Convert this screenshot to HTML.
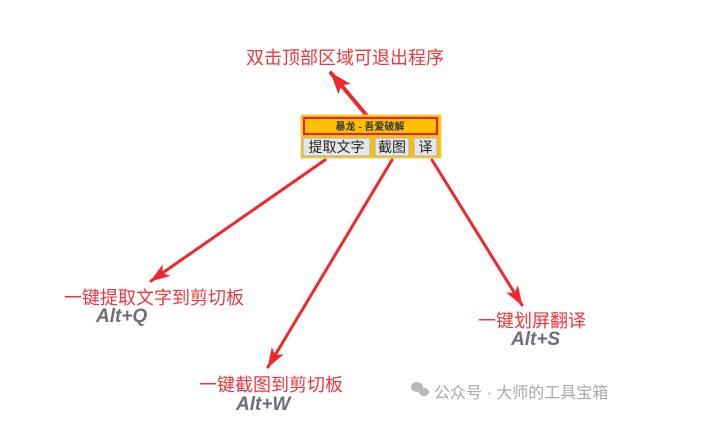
<!DOCTYPE html>
<html><head><meta charset="utf-8"><style>
body{margin:0;background:#fff;width:708px;height:439px;overflow:hidden;font-family:"Liberation Sans","Noto Sans CJK SC",sans-serif}
svg{position:absolute;left:0;top:0}
.t{position:absolute;color:#f0363c;white-space:nowrap;font-family:"Liberation Sans","Noto Sans CJK SC",sans-serif}
.k{position:absolute;color:#6e6e78;font-style:italic;font-weight:bold;font-size:19px;font-family:"Liberation Sans",sans-serif}
</style></head><body>
<svg width="708" height="439">
<defs>
<marker id="a" markerWidth="20" markerHeight="14" refX="19" refY="7" orient="auto" markerUnits="userSpaceOnUse"><path d="M0,0 L20,7 L0,14 L5,7 z" fill="#f0282c"/></marker>
<marker id="b" markerWidth="22" markerHeight="16" refX="21" refY="8" orient="auto" markerUnits="userSpaceOnUse"><path d="M0,0 L22,8 L0,16 L5,8 z" fill="#f0282c"/></marker>
</defs>
<g stroke="#f0282c" fill="none" stroke-linecap="round">
<line x1="368" y1="117" x2="331" y2="73" stroke-width="4" marker-end="url(#b)"/>
<line x1="325" y1="160" x2="151" y2="281" stroke-width="3" marker-end="url(#a)"/>
<line x1="392" y1="160" x2="268" y2="367" stroke-width="3" marker-end="url(#a)"/>
<line x1="432" y1="160" x2="522" y2="305" stroke-width="3" marker-end="url(#a)"/>
</g>
<rect x="301" y="115" width="140" height="43" fill="#ffc000" stroke="#f0d060"/>
<rect x="304" y="118" width="133" height="16" fill="#ffc000" stroke="#e82020" stroke-width="2"/>
<rect x="303" y="138" width="67" height="18" fill="#e6e6e6" stroke="#b0b0b0"/>
<rect x="375" y="138" width="34" height="18" fill="#e6e6e6" stroke="#b0b0b0"/>
<rect x="414" y="138" width="23" height="18" fill="#e6e6e6" stroke="#b0b0b0"/>
<text x="370" y="130" font-size="10" font-weight="bold" text-anchor="middle" fill="#333" font-family="Liberation Sans,Noto Sans CJK SC,sans-serif">暴龙 - 吾爱破解</text>
<text x="336.5" y="152" font-size="14" text-anchor="middle" fill="#222" font-family="Liberation Sans,Noto Sans CJK SC,sans-serif">提取文字</text>
<text x="392" y="152" font-size="14" text-anchor="middle" fill="#222" font-family="Liberation Sans,Noto Sans CJK SC,sans-serif">截图</text>
<text x="425.5" y="152" font-size="14" text-anchor="middle" fill="#222" font-family="Liberation Sans,Noto Sans CJK SC,sans-serif">译</text>
<g fill="#b8b8b8"><ellipse cx="417" cy="387" rx="6" ry="5"/><ellipse cx="424" cy="392" rx="5" ry="4"/></g>
</svg>
<div class="t" style="left:246px;top:44px;font-size:18px">双击顶部区域可退出程序</div>
<div class="t" style="left:64px;top:284px;font-size:18px">一键提取文字到剪切板</div>
<div class="k" style="left:96px;top:306px">Alt+Q</div>
<div class="t" style="left:478px;top:307px;font-size:18px">一键划屏翻译</div>
<div class="k" style="left:511px;top:329px">Alt+S</div>
<div class="t" style="left:199px;top:371px;font-size:18px">一键截图到剪切板</div>
<div class="k" style="left:236px;top:394px">Alt+W</div>
<div style="position:absolute;left:434px;top:379px;font-size:16px;color:#aaa;white-space:nowrap">公众号 · 大师的工具宝箱</div>
</body></html>
